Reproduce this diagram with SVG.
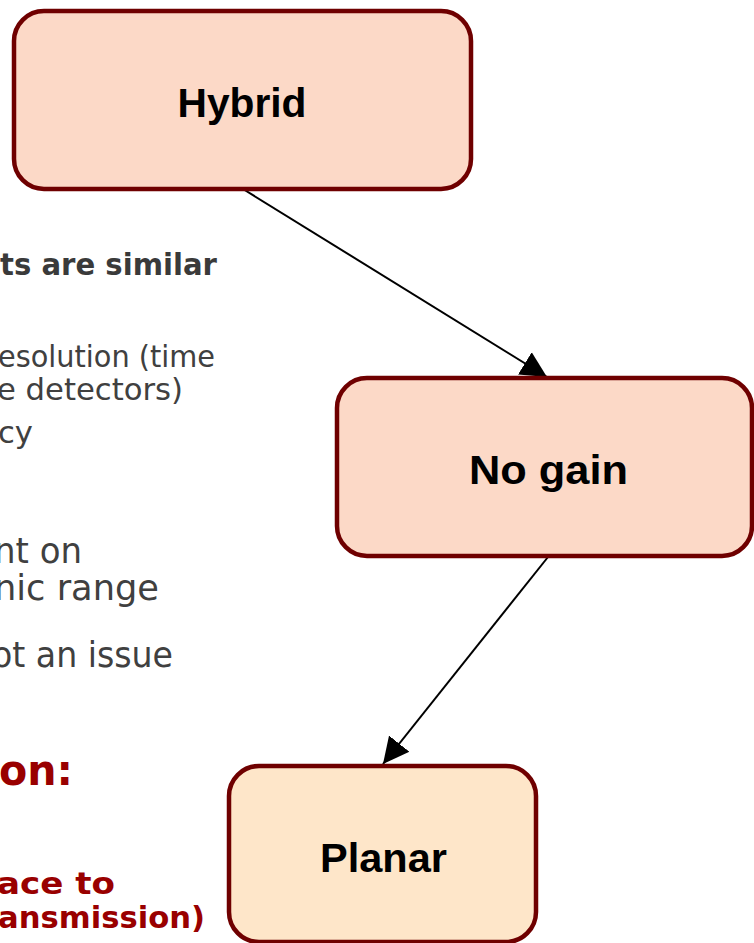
<svg xmlns="http://www.w3.org/2000/svg" width="754" height="943" viewBox="0 0 754 943">
  <style>
    .node rect { stroke: #6f0000; stroke-width: 4.5; }
    .peach { fill: #fcd9c7; }
    .cream { fill: #fee6c9; }
    .label { font-family: "Liberation Sans", Arial, sans-serif; font-weight: bold; font-size: 40px; fill: #000; text-anchor: middle; }
    .note { font-family: "DejaVu Sans", "Liberation Sans", sans-serif; text-anchor: end; }
    .grey { fill: #404040; }
    .greyb { fill: #3a3a3a; font-weight: bold; }
    .red { fill: #990000; font-weight: bold; }
    .edge { stroke: #000; stroke-width: 2; fill: none; marker-end: url(#arrow); }
  </style>
  <defs>
    <marker id="arrow" markerUnits="userSpaceOnUse" markerWidth="28" markerHeight="28" refX="26" refY="14" orient="auto">
      <path d="M0,1 L26,14 L0,27 Z" fill="#000"/>
    </marker>
  </defs>

  <rect width="754" height="943" fill="#fff"/>

  <!-- side notes, running off the left edge -->
  <g id="notes" class="note">
    <text class="greyb" x="217" y="275" font-size="31" textLength="217" lengthAdjust="spacingAndGlyphs">ts are similar</text>
    <text class="grey" x="215" y="367" font-size="30" textLength="217" lengthAdjust="spacingAndGlyphs">esolution (time</text>
    <text class="grey" x="183" y="400" font-size="30" textLength="186" lengthAdjust="spacingAndGlyphs">e detectors)</text>
    <text class="grey" x="33" y="443" font-size="30" textLength="35" lengthAdjust="spacingAndGlyphs">cy</text>
    <text class="grey" x="82" y="563" font-size="36" textLength="88" lengthAdjust="spacingAndGlyphs">nt on</text>
    <text class="grey" x="159" y="600" font-size="36" textLength="165" lengthAdjust="spacingAndGlyphs">nic range</text>
    <text class="grey" x="173" y="667" font-size="36" textLength="181" lengthAdjust="spacingAndGlyphs">ot an issue</text>
    <text class="red" x="73" y="785" font-size="43" textLength="74" lengthAdjust="spacingAndGlyphs">on:</text>
    <text class="red" x="115" y="894" font-size="31" textLength="118" lengthAdjust="spacingAndGlyphs">ace to</text>
    <text class="red" x="205" y="928" font-size="31" textLength="207" lengthAdjust="spacingAndGlyphs">ansmission)</text>
  </g>

  <!-- connectors -->
  <g id="connectors">
    <line class="edge" x1="243" y1="189" x2="547" y2="377"/>
    <line class="edge" x1="548" y1="557" x2="383" y2="764"/>
  </g>

  <!-- nodes -->
  <g id="hybrid" class="node">
    <rect class="peach" x="14" y="11" width="457" height="178" rx="30"/>
    <text class="label" x="242" y="117" textLength="129" lengthAdjust="spacingAndGlyphs">Hybrid</text>
  </g>
  <g id="no-gain" class="node">
    <rect class="peach" x="337" y="378" width="415" height="178" rx="30"/>
    <text class="label" x="548.5" y="484" textLength="159" lengthAdjust="spacingAndGlyphs">No gain</text>
  </g>
  <g id="planar" class="node">
    <rect class="cream" x="229" y="766" width="307" height="176" rx="30"/>
    <text class="label" x="383.5" y="872" textLength="127" lengthAdjust="spacingAndGlyphs">Planar</text>
  </g>
</svg>
